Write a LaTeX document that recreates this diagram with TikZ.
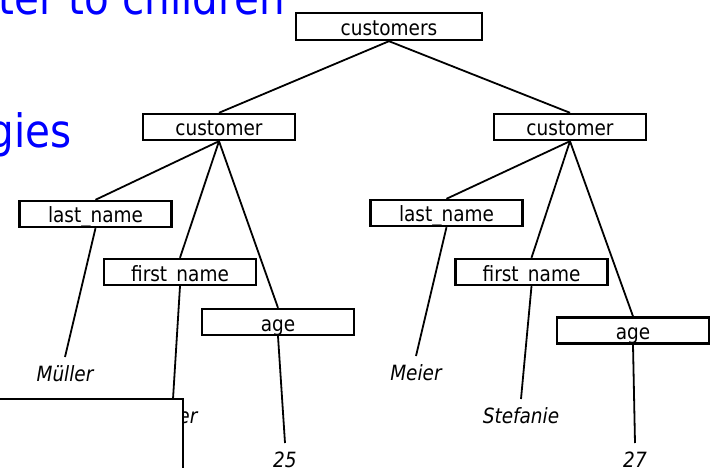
\documentclass[tikz,border=0pt]{standalone}
\usepackage{fontspec}
\setmainfont[FakeStretch=0.88]{DejaVu Sans}
\begin{document}
\begin{tikzpicture}[x=1pt,y=-1pt,
  treebox/.style={draw=black, line width=2.4pt, fill=white, inner sep=0pt,
    minimum width=152pt, minimum height=26pt, text height=18pt, text depth=0pt,
    font=\fontsize{21}{23}\selectfont},
  leaf/.style={inner sep=0pt, outer xsep=0pt, outer ysep=9pt, text height=15pt, text depth=0pt,
    anchor=base, font=\fontsize{21}{23}\selectfont\itshape},
  edge/.style={line width=1.8pt},
  bluetext/.style={text=blue, inner sep=0pt, anchor=base east, font=\fontsize{46}{50}\selectfont},
  coverbox/.style={draw=black, line width=2.4pt, fill=white}]
\useasboundingbox (0,0) rectangle (721,468);
\clip (0,0) rectangle (721,468);
% blue slide text (partly cut off)
\node[bluetext] (t1) at (285,15) {ter to children};
\node[bluetext] (t2) at (72,148) {gies};
% tree boxes
\node[treebox, minimum width=186pt, minimum height=27pt] (cs) at (389,26.5) {customers};
\node[treebox] (c1) at (219,127) {customer};
\node[treebox] (c2) at (570,127) {customer};
\node[treebox] (ln1) at (95.5,214) {last\_name};
\node[treebox] (fn1) at (180,272) {first\_name};
\node[treebox] (ag1) at (278,322) {age};
\node[treebox] (ln2) at (446.5,213) {last\_name};
\node[treebox] (fn2) at (531.5,272) {first\_name};
\node[treebox] (ag2) at (633,330.5) {age};
% leaf values
\node[leaf] (v1) at (65,381) {Müller};
\node[leaf] (v2) at (173,423) {Peter};
\node[leaf] (v3) at (285,467) {25};
\node[leaf] (v4) at (416,380) {Meier};
\node[leaf] (v5) at (521,423) {Stefanie};
\node[leaf] (v6) at (635,467) {27};
% connectors
\draw[edge] (cs.south) -- (c1.north);
\draw[edge] (cs.south) -- (c2.north);
\draw[edge] (c1.south) -- (ln1.north);
\draw[edge] (c1.south) -- (fn1.north);
\draw[edge] (c1.south) -- (ag1.north);
\draw[edge] (c2.south) -- (ln2.north);
\draw[edge] (c2.south) -- (fn2.north);
\draw[edge] (c2.south) -- (ag2.north);
\draw[edge] (ln1.south) -- (v1.north);
\draw[edge] (fn1.south) -- (v2.north);
\draw[edge] (ag1.south) -- (v3.north);
\draw[edge] (ln2.south) -- (v4.north);
\draw[edge] (fn2.south) -- (v5.north);
\draw[edge] (ag2.south) -- (v6.north);
% covering white box
\path[coverbox] (-3,399) rectangle (183,472);
\end{tikzpicture}
\end{document}
